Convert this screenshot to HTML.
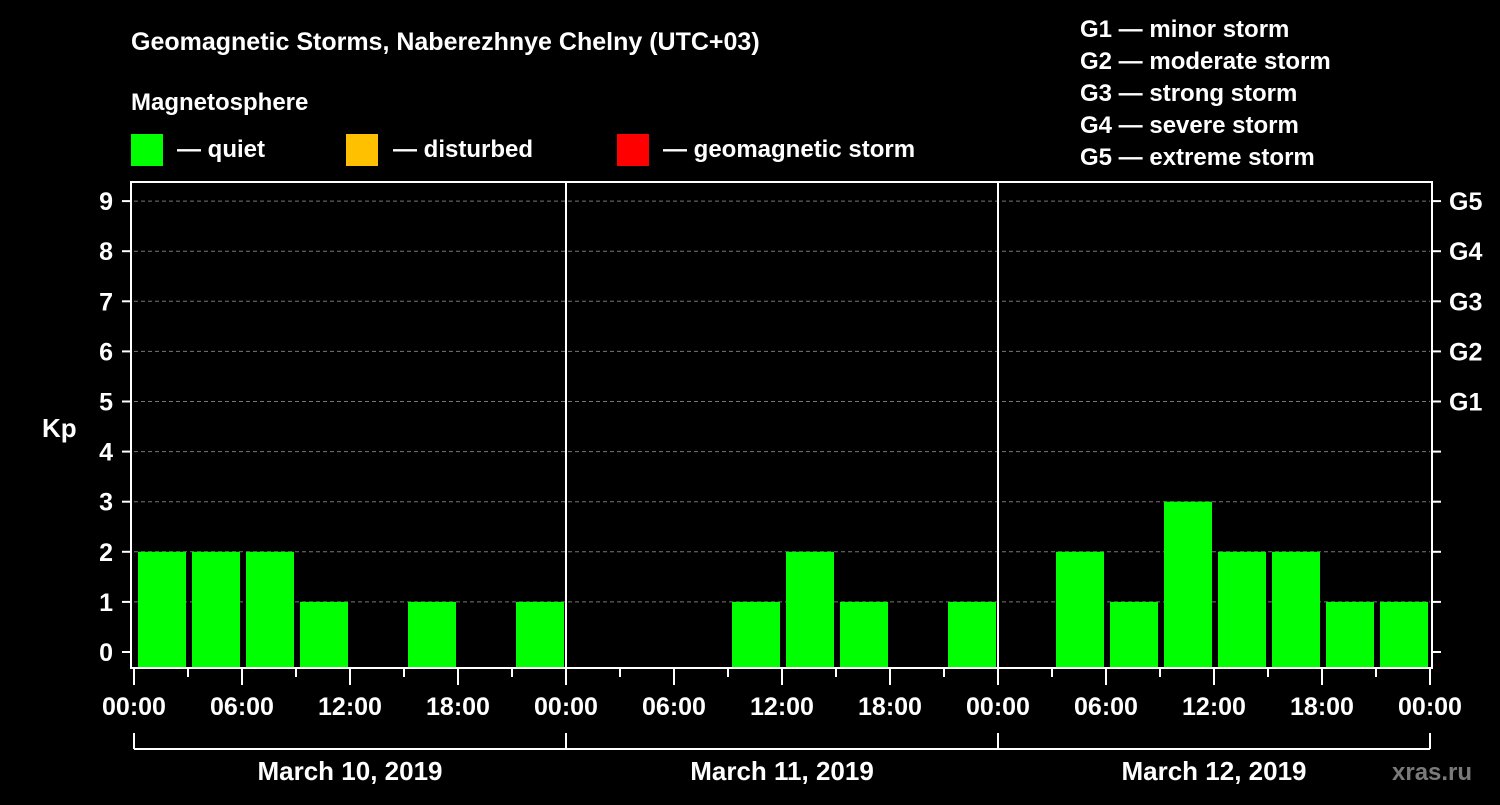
<!DOCTYPE html>
<html><head><meta charset="utf-8"><style>
html,body{margin:0;padding:0;background:#000;}
svg text{font-family:"Liberation Sans",Arial,sans-serif;font-weight:bold;fill:#fff;}
</style></head><body>
<svg id="chart" width="1500" height="800" viewBox="0 0 1500 800" xmlns="http://www.w3.org/2000/svg">
<rect x="0" y="0" width="1500" height="800" fill="#000"/>
<text x="131" y="50" font-size="25">Geomagnetic Storms, Naberezhnye Chelny (UTC+03)</text>
<text x="131" y="110" font-size="24">Magnetosphere</text>
<g>
<rect x="131" y="134" width="32" height="32" fill="#00ff00"/>
<text x="177" y="157" font-size="24">— quiet</text>
<rect x="346" y="134" width="32" height="32" fill="#ffc000"/>
<text x="393" y="157" font-size="24">— disturbed</text>
<rect x="617" y="134" width="32" height="32" fill="#ff0000"/>
<text x="663" y="157" font-size="24">— geomagnetic storm</text>
</g>
<g font-size="24">
<text x="1080" y="37" font-size="24">G1 — minor storm</text>
<text x="1080" y="69" font-size="24">G2 — moderate storm</text>
<text x="1080" y="101" font-size="24">G3 — strong storm</text>
<text x="1080" y="133" font-size="24">G4 — severe storm</text>
<text x="1080" y="165" font-size="24">G5 — extreme storm</text>
</g>
<text x="42" y="437" font-size="26">Kp</text>
<text x="1392" y="780" font-size="24" fill="#888" style="fill:#7a7a7a">xras.ru</text>
<g id="grid"></g>
<g id="bars"></g>
<g id="axes"></g>
</svg>
<script>
const dayLabels = ["March 10, 2019","March 11, 2019","March 12, 2019"];
const hourLabels = ["00:00","06:00","12:00","18:00"];
const kpValues = [2,2,2,1,0,1,0,1, 0,0,0,1,2,1,0,1, 0,2,1,3,2,2,1,1];
const kpTicks = [0,1,2,3,4,5,6,7,8,9];
const gLabels = [[5,"G1"],[6,"G2"],[7,"G3"],[8,"G4"],[9,"G5"]];

const NS="http://www.w3.org/2000/svg";
const X0=134, X1=1430, TOP=182, BOT=668;
const slotW=(X1-X0)/kpValues.length;
function xPos(i){return X0+i*slotW;}
function yPos(v){return 652-v*50.1;}
function mk(tag,attrs,parent){const e=document.createElementNS(NS,tag);for(const k in attrs)e.setAttribute(k,attrs[k]);parent.appendChild(e);return e;}
const grid=document.getElementById('grid'),bars=document.getElementById('bars'),axes=document.getElementById('axes');

kpTicks.forEach(v=>{
  const y=yPos(v);
  if(v>0){const l=mk('line',{x1:X0,x2:X1,y1:y,y2:y,stroke:'#777','stroke-dasharray':'4,3','stroke-width':1},grid);
  
  }
  const t=mk('line',{x1:122,x2:131,y1:y,y2:y,stroke:'#fff','stroke-width':2},axes);
  
  
  const t2=mk('line',{x1:1432,x2:1441,y1:y,y2:y,stroke:'#fff','stroke-width':2},axes);
  
  
  const tx=mk('text',{x:113,y:y+9,'text-anchor':'end','font-size':25},axes);
  tx.textContent=v;
  
  
});
gLabels.forEach(([v,g])=>{
  const tx=mk('text',{x:1449,y:yPos(v)+9,'font-size':25},axes);
  tx.textContent=g;
  
  
});

kpValues.forEach((v,i)=>{
  if(v<=0)return;
  const y=yPos(v);
  const r=mk('rect',{x:xPos(i)+4,y:y,width:slotW-6,height:BOT-y,fill:'#00ff00'},bars);
  
  
});

// frame
const fr=mk('rect',{x:131,y:TOP,width:1301,height:BOT-TOP,fill:'none',stroke:'#fff','stroke-width':2},axes);


const perDay=kpValues.length/dayLabels.length;
for(let d=1;d<dayLabels.length;d++){
  const x=xPos(d*perDay);
  const l=mk('line',{x1:x,x2:x,y1:TOP,y2:BOT,stroke:'#fff','stroke-width':2},axes);
  
  
}
// x ticks
for(let i=0;i<=kpValues.length;i++){
  const x=xPos(i), major=i%2===0;
  const t=mk('line',{x1:x,x2:x,y1:BOT,y2:major?685:677,stroke:'#fff','stroke-width':2},axes);
  
  
  if(major){
    const tx=mk('text',{x:x,y:715,'text-anchor':'middle','font-size':25},axes);
    tx.textContent=hourLabels[(i/2)%hourLabels.length];
    
    
  }
}
// date brackets
const br=mk('line',{x1:X0,x2:X1,y1:749,y2:749,stroke:'#fff','stroke-width':2},axes);


for(let d=0;d<=dayLabels.length;d++){
  const x=xPos(d*perDay);
  const t=mk('line',{x1:x,x2:x,y1:733,y2:749,stroke:'#fff','stroke-width':2},axes);
  
  
}
dayLabels.forEach((lab,d)=>{
  const x=(xPos(d*perDay)+xPos((d+1)*perDay))/2;
  const tx=mk('text',{x:x,y:780,'text-anchor':'middle','font-size':26},axes);
  tx.textContent=lab;
  
  
});
</script>
</body></html>
